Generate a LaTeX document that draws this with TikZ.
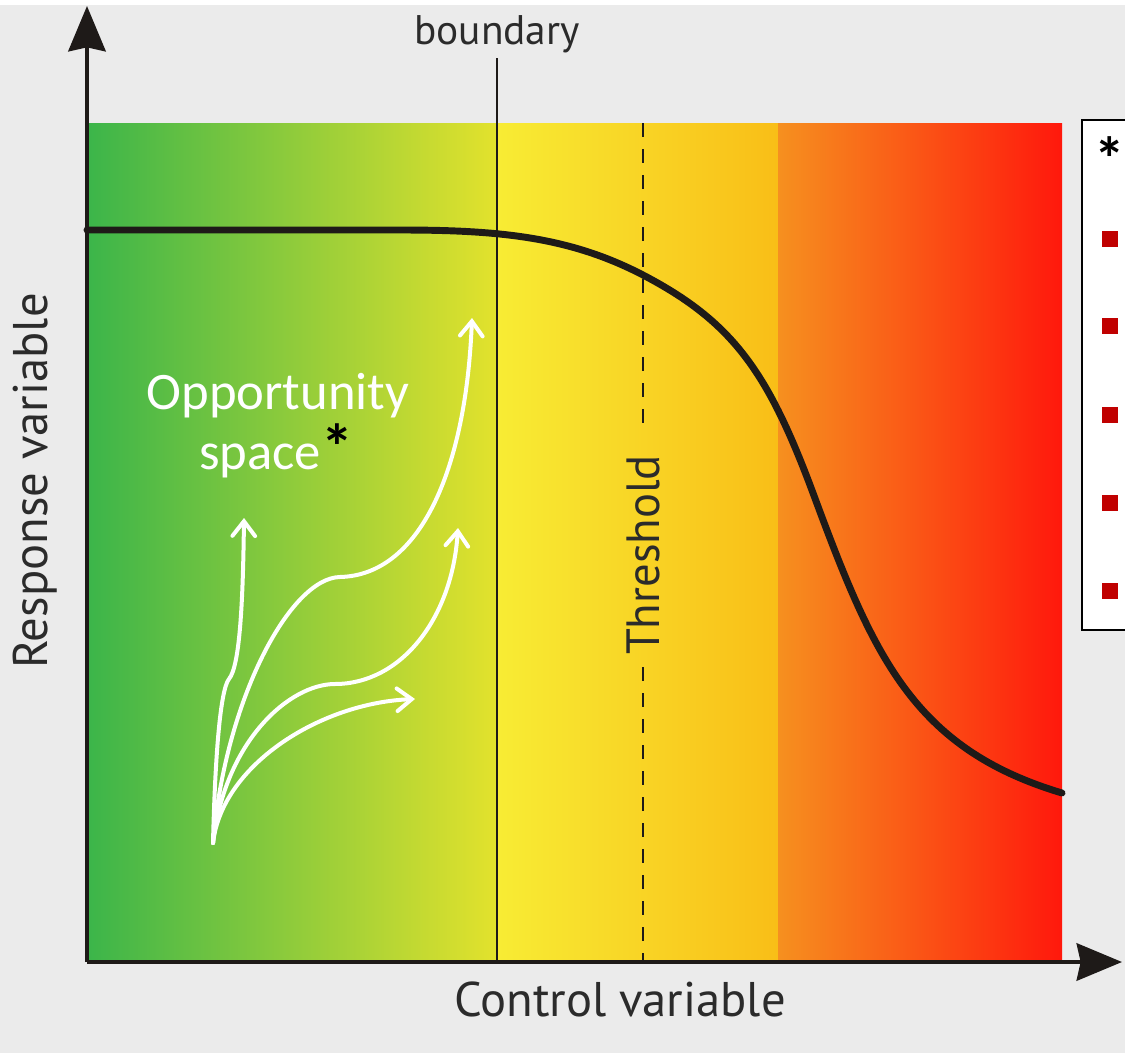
\documentclass[tikz,border=0pt]{standalone}
\usepackage{fontspec}
\usetikzlibrary{arrows.meta}
\newfontfamily\labelfont{PT Sans}
\newfontfamily\calfont{Carlito}
\definecolor{bg}{HTML}{EBEBEB}
\definecolor{gA}{HTML}{3BB54A}
\definecolor{gB}{HTML}{93C83E}
\definecolor{gC}{HTML}{E3E22C}
\definecolor{yA}{HTML}{F8EC34}
\definecolor{yB}{HTML}{F8DA28}
\definecolor{yC}{HTML}{F9BE17}
\definecolor{oA}{HTML}{F6901F}
\definecolor{oB}{HTML}{FB5A17}
\definecolor{oC}{HTML}{FF180C}
\definecolor{ink}{HTML}{1E1A18}
\definecolor{txt}{HTML}{2B2B2B}
\definecolor{mark}{HTML}{C00000}
\tikzset{
  axisline/.style={line width=3pt, draw=ink, -{Stealth[length=34pt, width=28pt, inset=3pt]}},
  response/.style={line width=5.2pt, draw=ink, line cap=round},
  pathway/.style={line width=3pt, draw=white, line cap=round,
    -{Straight Barb[length=11pt, width=17pt, line width=3pt, line cap=round]}},
  axislabel/.style={font=\labelfont\fontsize{36.5}{42}\selectfont, text=txt, inner sep=0pt},
  opplabel/.style={font=\calfont\fontsize{39.5}{46}\selectfont, text=white, inner sep=0pt, anchor=base},
  legendbox/.style={line width=1.5pt, draw=black, fill=white},
  bullet/.style={fill=mark, draw=none, minimum size=12pt, inner sep=0pt},
}
\begin{document}
\begin{tikzpicture}[x=0.75pt, y=-0.75pt]
\useasboundingbox (0,0) rectangle (1125,1053);
\clip (0,0) rectangle (1125,1053);
% backdrop
\fill[bg] (0,0) rectangle (1125,1053);
\fill[white] (0,0) rectangle (1125,5);

% colour bands of the plotting area
\shade[left color=gA, middle color=gB, right color=gC] (87,123) rectangle (497,962);
\shade[left color=yA, middle color=yB, right color=yC] (497,123) rectangle (778,962);
\shade[left color=oA, middle color=oB, right color=oC] (778,123) rectangle (1062,962);

% safe-operating boundary
\node[font=\labelfont\fontsize{31}{36}\selectfont, text=txt, inner sep=0pt, anchor=base] (bnd) at (497,45) {boundary};
\coordinate (btop) at (497,58);
\coordinate (bbot) at (497,962);
\draw[line width=1.4pt, draw=ink] (btop) -- (bbot);

% threshold line with its label
\node[axislabel, font=\labelfont\fontsize{35}{40}\selectfont, rotate=90] (thr) at (643,555) {Threshold};
\coordinate (ttop) at (643,123);
\coordinate (tmid1) at (643,433);
\coordinate (tmid2) at (643,667);
\coordinate (tbot) at (643,962);
\draw[line width=2.2pt, draw=ink, dash pattern=on 10.5pt off 9pt] (ttop) -- (tmid1);
\draw[line width=2.2pt, draw=ink, dash pattern=on 10.5pt off 9pt] (tmid2) -- (tbot);

% response curve: plateau, tipping point, collapse
\draw[response] (87,230) -- (400,230)
  .. controls (500,230) and (570,237) .. (643,275)
  .. controls (733,322) and (768,372) .. (813,493)
  .. controls (873,655) and (912,748) .. (1062,793);

% axes
\coordinate (origin) at (87,962);
\coordinate (ytip) at (87,6);
\coordinate (xtip) at (1122,962);
\draw[axisline] (origin) -- (ytip);
\draw[axisline] (origin) -- (xtip);

\node[axislabel, anchor=base] (xlab) at (620,1016) {Control variable};
\node[axislabel, rotate=90] (ylab) at (35,481) {Response variable};

% pathways through the opportunity space
\coordinate (src) at (213,843);
\coordinate (p1) at (244,518);
\coordinate (p2) at (472,318);
\coordinate (p3) at (458,528);
\coordinate (p4) at (415,699);
\draw[pathway] (src) .. controls (215,760) and (220,690) .. (229,679)
  .. controls (240,666) and (243,600) .. (p1);
\draw[pathway] (src) .. controls (225,700) and (290,578) .. (340,577)
  .. controls (420,575) and (466,470) .. (p2);
\draw[pathway] (src) .. controls (225,740) and (290,684) .. (335,684)
  .. controls (400,684) and (452,620) .. (p3);
\draw[pathway] (src) .. controls (222,765) and (320,703) .. (p4);

\node[opplabel] (opp1) at (278,409) {Opportunity};
\node[opplabel] (opp2) at (276,469) {space\textcolor{black}{\bfseries\fontsize{48}{48}\selectfont *}};

% footnote legend
\draw[legendbox] (1082,120) rectangle (1150,630);
\node[font=\calfont\bfseries\fontsize{46}{46}\selectfont, inner sep=0pt, anchor=base] (star) at (1110,180) {*};
\node[bullet] (b1) at (1110,239) {};
\node[bullet] (b2) at (1110,326) {};
\node[bullet] (b3) at (1110,415) {};
\node[bullet] (b4) at (1110,503) {};
\node[bullet] (b5) at (1110,591) {};
\end{tikzpicture}
\end{document}
